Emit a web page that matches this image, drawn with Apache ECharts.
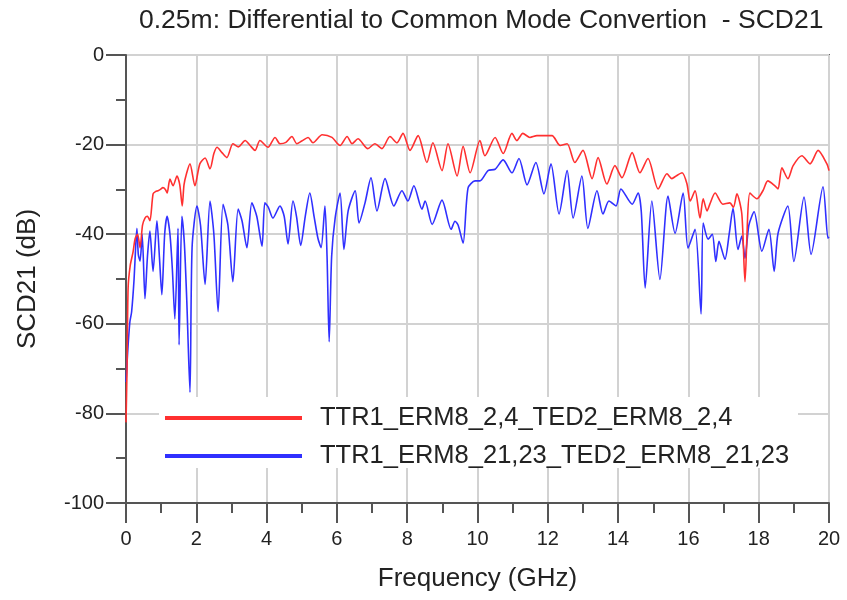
<!DOCTYPE html>
<html>
<head>
<meta charset="utf-8">
<script src="https://cdn.jsdelivr.net/npm/echarts@6/dist/echarts.min.js"></script>
<style>
html,body{margin:0;padding:0;background:#fff;}
#chart{width:847px;height:600px;}
</style>
</head>
<body>
<div id="chart"></div>
<script>
const titleText = '0.25m: Differential to Common Mode Convertion  - SCD21';
const xName = 'Frequency (GHz)';
const yName = 'SCD21 (dB)';
const seriesNames = ['TTR1_ERM8_2,4_TED2_ERM8_2,4', 'TTR1_ERM8_21,23_TED2_ERM8_21,23'];
const xTicks = [0, 2, 4, 6, 8, 10, 12, 14, 16, 18, 20];
const yTicks = [-100, -80, -60, -40, -20, 0];

const redFreq = [0,0.03,0.06,0.12,0.2,0.26,0.33,0.4,0.47,0.54,0.61,0.68,0.77,0.84,0.91,0.98,1.05,1.12,1.17,1.25,1.34,1.45,1.53,1.6,1.65,1.72,1.82,1.96,2.1,2.25,2.39,2.5,2.59,2.73,2.87,3.04,3.2,3.39,3.53,3.67,3.81,4.04,4.24,4.38,4.55,4.72,4.86,5.0,5.18,5.32,5.58,5.86,6.09,6.29,6.43,6.6,6.88,7.08,7.28,7.51,7.71,7.88,8.08,8.31,8.56,8.73,8.99,9.16,9.42,9.59,9.79,10.07,10.21,10.5,10.73,10.98,11.12,11.29,11.49,11.69,12.12,12.35,12.55,12.77,13.0,13.26,13.43,13.68,13.91,14.11,14.4,14.62,14.85,15.14,15.39,15.53,15.65,15.82,15.96,16.05,16.19,16.33,16.42,16.53,16.61,16.76,16.98,17.18,17.28,17.38,17.52,17.61,17.75,17.95,18.12,18.26,18.46,18.55,18.66,18.83,18.98,19.23,19.46,19.69,19.94,20];
const redDb = [-82,-70,-52,-47,-44,-41,-40,-43,-38,-36.4,-36,-37,-31,-30.5,-30.3,-30,-29.6,-30,-30.8,-27.7,-29.2,-27,-29,-33.7,-29,-26.5,-24.3,-29.2,-24.3,-23,-25.4,-22,-20.6,-21.8,-22.9,-19.8,-20.5,-19.1,-20.2,-21.3,-19.1,-20.6,-18.4,-19.8,-19.5,-18.2,-19.8,-19.2,-18.4,-19.6,-17.8,-18.4,-20.2,-18.2,-19.8,-18.7,-20.9,-19.8,-20.9,-18.2,-19.6,-17.5,-21.3,-18,-24,-19.6,-25.8,-19.8,-27,-20.4,-26.3,-19.1,-22.5,-18.4,-22,-17.5,-19.1,-17.5,-18.4,-18,-18,-20.2,-19.8,-24,-21.3,-27.6,-22.9,-28.8,-24.7,-27.4,-21.8,-26.3,-23.1,-29.9,-26.5,-27.6,-27,-26.3,-28.8,-32.6,-30.3,-36.4,-32.1,-34.8,-33.3,-30.8,-33.3,-33,-34,-31,-35.5,-50.6,-30.8,-32.1,-30.3,-28.1,-29.2,-29.9,-25.2,-27.6,-24.7,-22.5,-24.3,-21.3,-24.3,-25.8];

const blueFreq = [0,0.05,0.11,0.16,0.23,0.28,0.31,0.35,0.4,0.46,0.54,0.61,0.68,0.77,0.88,0.95,1.02,1.1,1.17,1.25,1.32,1.39,1.48,1.51,1.59,1.66,1.73,1.82,1.88,2.02,2.12,2.25,2.39,2.5,2.62,2.76,2.9,3.04,3.19,3.3,3.44,3.58,3.72,3.87,3.95,4.05,4.18,4.38,4.5,4.61,4.75,4.85,4.97,5.1,5.23,5.35,5.46,5.55,5.66,5.72,5.78,5.85,5.95,6.09,6.2,6.32,6.52,6.63,6.8,6.97,7.14,7.37,7.62,7.85,8.02,8.19,8.42,8.51,8.71,8.99,9.25,9.36,9.45,9.59,9.73,9.93,10.07,10.3,10.5,10.73,10.98,11.18,11.41,11.66,11.89,12.09,12.32,12.55,12.72,12.97,13.14,13.4,13.57,13.74,13.94,14.08,14.4,14.57,14.66,14.77,14.96,15.19,15.42,15.62,15.85,15.99,16.19,16.36,16.42,16.56,16.68,16.78,16.87,17.04,17.16,17.27,17.41,17.52,17.61,17.72,17.87,18.09,18.29,18.44,18.55,18.83,19.0,19.29,19.49,19.83,19.97,20];
const blueDb = [-73,-66,-59.6,-57.3,-50,-42,-38.7,-44.5,-46,-40,-54.4,-45,-39.3,-48.3,-37,-45,-53.5,-40,-36,-40,-48,-58.9,-38.7,-64.7,-36,-42,-55,-75.3,-43,-33.7,-38,-51.2,-32.6,-40,-57.3,-33.3,-38,-50.6,-34.4,-37,-43,-33,-36,-42.7,-33,-34,-36.4,-33.7,-36,-42.2,-32.6,-36,-42.5,-36,-30.8,-36,-40.9,-43,-33.7,-45,-64,-45,-36.4,-30.8,-43.4,-34.8,-30.3,-37.5,-33,-27.4,-34.8,-27.6,-33.7,-30.3,-32.6,-29.2,-34.4,-32.6,-37.8,-32.4,-38.9,-37.1,-38,-42,-29.7,-28.1,-28.1,-25.8,-25.5,-23.4,-26.3,-23.1,-29,-24,-31,-24.3,-35.5,-25.8,-36.4,-27,-38.7,-30.3,-35.5,-32.6,-33.7,-29.9,-33.3,-30.8,-35,-52,-32.6,-50.1,-31.5,-39.8,-30.8,-43.1,-38.9,-57.8,-37.5,-41.1,-40,-46.1,-41.6,-45.6,-40,-34.2,-43.4,-40.4,-45.4,-38,-35,-43.8,-38.9,-48.3,-39.8,-33.7,-46.1,-31.7,-44.5,-29.4,-40.9,-40.6];

const FONT = "'Liberation Sans', Arial, sans-serif";
const chart = echarts.init(document.getElementById('chart'), null, {renderer: 'canvas'});

const axisCommon = {
  axisLine: {show: true, onZero: false, lineStyle: {color: '#555', width: 2}},
  axisTick: {show: true, inside: false, length: 20, lineStyle: {color: '#555', width: 2}},
  minorTick: {show: true, splitNumber: 2, length: 10, lineStyle: {color: '#555', width: 2}},
  splitLine: {show: true, lineStyle: {color: '#d2d2d2', width: 2}},
  minorSplitLine: {show: false}
};

chart.setOption({
  backgroundColor: '#fff',
  animation: false,
  title: {
    text: titleText, left: 134, top: 2,
    textStyle: {fontFamily: FONT, fontSize: 26.5, fontWeight: 'normal', color: '#222'}
  },
  grid: {left: 126, right: 18, top: 55, bottom: 97, show: true, borderColor: '#666', borderWidth: 2, backgroundColor: 'transparent'},
  xAxis: Object.assign({
    type: 'value', min: xTicks[0], max: xTicks[xTicks.length - 1], interval: 2,
    name: xName, nameLocation: 'middle', nameGap: 63,
    nameTextStyle: {fontFamily: FONT, fontSize: 26, color: '#222'},
    axisLabel: {fontFamily: FONT, fontSize: 20, color: '#222', margin: 26}
  }, axisCommon),
  yAxis: Object.assign({
    type: 'value', min: yTicks[0], max: yTicks[yTicks.length - 1], interval: 20,
    name: yName, nameLocation: 'middle', nameGap: 85, nameRotate: 90,
    nameTextStyle: {fontFamily: FONT, fontSize: 26, color: '#222'},
    axisLabel: {fontFamily: FONT, fontSize: 20, color: '#222', margin: 22}
  }, axisCommon),
  graphic: [{
    type: 'rect', z: 1, left: 159, top: 397,
    shape: {width: 639, height: 71},
    style: {fill: '#fff'}
  }],
  legend: [
    {data: [seriesNames[0]], left: 165, top: 405, padding: 0, orient: 'vertical',
     icon: 'rect', itemWidth: 137, itemHeight: 4, z: 5,
     textStyle: {fontFamily: FONT, fontSize: 25.5, color: '#222', padding: [0, 0, 0, 13]}},
    {data: [seriesNames[1]], left: 165, top: 443, padding: 0, orient: 'vertical',
     icon: 'rect', itemWidth: 137, itemHeight: 4, z: 5,
     textStyle: {fontFamily: FONT, fontSize: 25.5, color: '#222', padding: [0, 0, 0, 13]}}
  ],
  series: [
    {name: seriesNames[0], type: 'line', showSymbol: false, smooth: 0.25, z: 3,
     color: '#ff3030', lineStyle: {color: '#ff3030', width: 1.6},
     data: redFreq.map((f, i) => [f, redDb[i]])},
    {name: seriesNames[1], type: 'line', showSymbol: false, smooth: 0.25, z: 2,
     color: '#3030ff', lineStyle: {color: '#3030ff', width: 1.6},
     data: blueFreq.map((f, i) => [f, blueDb[i]])}
  ]
});
</script>
</body>
</html>
